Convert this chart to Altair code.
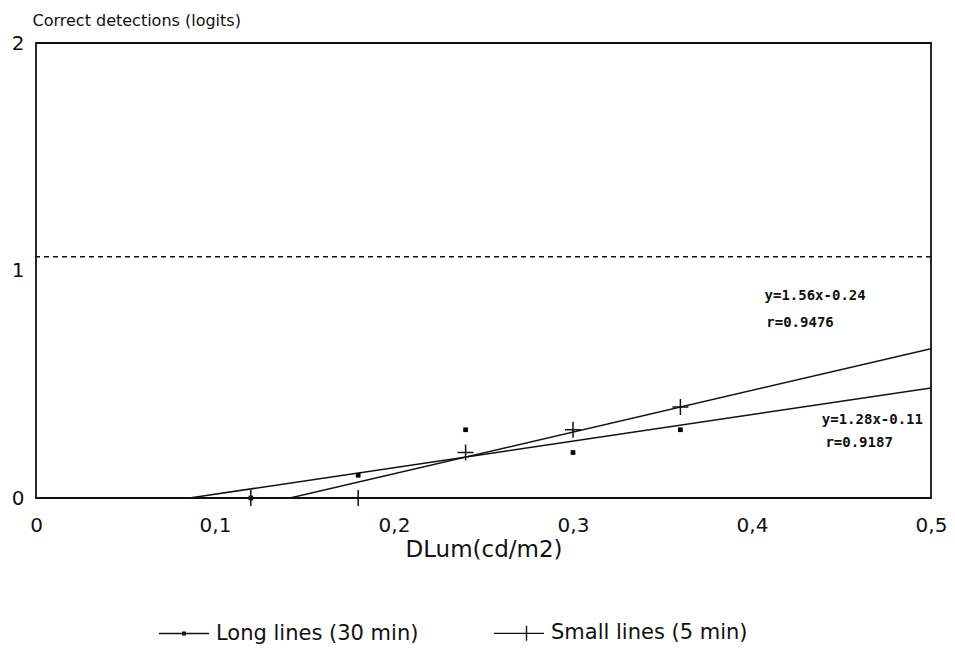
import altair as alt
import pandas as pd

# ---- data ----
x_long = [0.12, 0.18, 0.24, 0.30, 0.36]
y_long = [0.0, 0.10, 0.30, 0.20, 0.30]
x_small = [0.12, 0.18, 0.24, 0.30, 0.36]
y_small = [0.0, 0.0, 0.20, 0.30, 0.40]
series_names = ["Long lines (30 min)", "Small lines (5 min)"]
reference_level = [1.06]
x_ticks = [0, 0.1, 0.2, 0.3, 0.4, 0.5]
y_ticks = [0, 1, 2]
ann_text = ["y=1.56x-0.24", "r=0.9476", "y=1.28x-0.11", "r=0.9187"]
ann_x = [0.407, 0.408, 0.439, 0.441]
ann_y = [0.89, 0.77, 0.343, 0.24]

pts = pd.DataFrame({
    "series": [series_names[0]] * len(x_long) + [series_names[1]] * len(x_small),
    "x": x_long + x_small,
    "y": y_long + y_small,
})
ann = pd.DataFrame({"t": ann_text, "x": ann_x, "y": ann_y})
ref = pd.DataFrame({"y": reference_level})
leg = pd.DataFrame({"series": series_names})

FONT = "DejaVu Sans"
INK = "#111111"

xscale = alt.Scale(domain=[0, 0.5], nice=False, zero=False)
yscale = alt.Scale(domain=[0, 2], nice=False, zero=False)

xaxis = alt.Axis(values=x_ticks, tickCount=6, title="DLum(cd/m2)", grid=False, domain=False,
                 ticks=False,
                 labelExpr="datum.value == 0 ? '0' : replace(format(datum.value, '.1f'), '.', ',')",
                 labelPadding=17, titlePadding=3, labelFlush=False, labelOverlap=False,
                 labelFontSize=20, titleFontSize=23)
yaxis = alt.Axis(values=y_ticks, tickCount=3, title="Correct detections (logits)", grid=False,
                 domain=False, ticks=False, labelPadding=12, titleAngle=0, titleAlign="left",
                 titleBaseline="middle", titleX=-4, titleY=-23,
                 labelExpr="format(datum.value, 'd')",
                 labelOverlap=False, labelFlush=False, labelBound=False,
                 labelFontSize=20, titleFontSize=16)

X = alt.X("x:Q", scale=xscale, axis=xaxis)
Y = alt.Y("y:Q", scale=yscale, axis=yaxis)

fits = alt.Chart(pts).transform_regression(
    "x", "y", groupby=["series"], extent=[0, 0.5]
).mark_line(clip=True, color=INK, strokeWidth=1.5).encode(x=X, y=Y, detail="series:N")

rule = alt.Chart(ref).mark_rule(strokeDash=[5, 4], strokeWidth=1.5, color=INK).encode(y=Y)

dots = alt.Chart(pts).transform_filter(
    alt.datum.series == series_names[0]
).mark_point(filled=True, shape="square", size=22, color="#000000", opacity=1).encode(x=X, y=Y)

crosses = alt.Chart(pts).transform_filter(
    alt.datum.series == series_names[1]
).mark_point(filled=False, shape="M-1,0H1M0,-1V1", size=256, strokeWidth=1.5, color=INK,
             opacity=1).encode(x=X, y=Y)

labels = alt.Chart(ann).mark_text(font="DejaVu Sans Mono", fontSize=14, fontWeight="bold",
                                  align="left", baseline="middle", color=INK).encode(
    x=X, y=Y, text="t:N")

path_long = "M-1,0H1M-0.05,-0.05H0.05V0.05H-0.05Z"
path_small = "M-1,0H1M0.3,-0.3V0.3"

legend_layer = alt.Chart(leg).mark_point(filled=False, stroke=INK, strokeWidth=1.4).encode(
    x=alt.value(-300), y=alt.value(-300),
    shape=alt.Shape("series:N", scale=alt.Scale(domain=series_names, range=[path_long, path_small]),
                    legend=alt.Legend(title=None, orient="none", legendX=122, legendY=564,
                                      direction="horizontal", symbolSize=2500,
                                      symbolStrokeWidth=1.4, symbolStrokeColor=INK,
                                      symbolOpacity=1,
                                      labelFont=FONT, labelFontSize=21, labelLimit=0,
                                      labelColor=INK, labelOffset=6, columnPadding=72,
                                      padding=0)))

chart = alt.layer(fits, rule, dots, crosses, labels, legend_layer).properties(
    width=895, height=455,
    autosize=alt.AutoSizeParams(type="none"),
    padding={"left": 28, "top": 35, "right": 16, "bottom": 149},
).configure_view(stroke=INK, strokeWidth=1.8).configure_axis(
    labelFont=FONT, labelColor=INK, titleFont=FONT,
    titleFontWeight="normal", titleColor=INK
)

chart.save("out.html", embed_options={"renderer": "svg", "actions": False})
